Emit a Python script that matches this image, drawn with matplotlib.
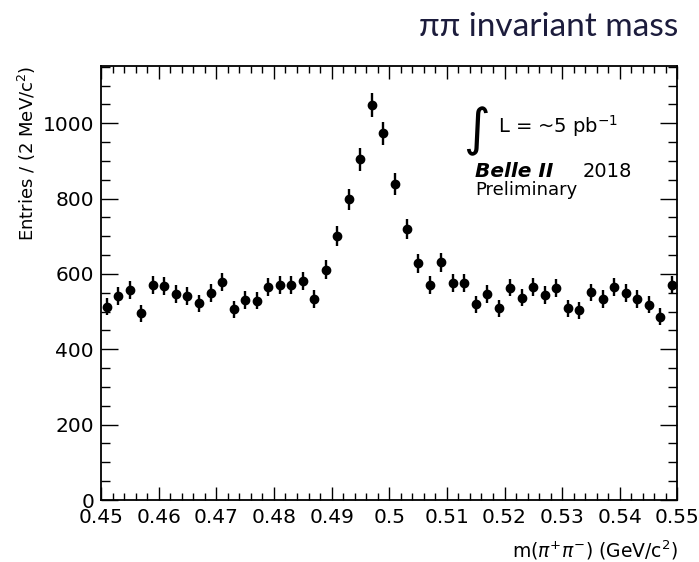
import numpy as np
import matplotlib
matplotlib.use("Agg")
import matplotlib.pyplot as plt
from matplotlib.ticker import MultipleLocator

# ---- data ----
bin_centers = np.round(np.arange(0.451, 0.550, 0.002), 3)
counts = [513, 542, 557, 496, 571, 568, 546, 541, 522, 549,
          578, 506, 531, 529, 565, 570, 570, 581, 533, 611,
          701, 798, 904, 1049, 973, 838, 719, 628, 571, 631,
          577, 577, 520, 546, 509, 564, 537, 566, 544, 562,
          509, 504, 551, 534, 566, 549, 533, 518, 487, 571]
xtick_values = [0.45, 0.46, 0.47, 0.48, 0.49, 0.50, 0.51, 0.52, 0.53, 0.54, 0.55]
xtick_labels = ['0.45', '0.46', '0.47', '0.48', '0.49', '0.5', '0.51', '0.52', '0.53', '0.54', '0.55']
ytick_values = [0, 200, 400, 600, 800, 1000]
ytick_labels = ['0', '200', '400', '600', '800', '1000']

counts = np.array(counts, dtype=float)
errors = np.sqrt(counts)

plt.rcParams['font.family'] = ['DejaVu Sans']
fig = plt.figure(figsize=(6.99, 5.62), dpi=100)
ax = fig.add_axes([0.1445, 0.1103, 0.9692 - 0.1445, 0.8826 - 0.1103])

ax.errorbar(bin_centers, counts, yerr=errors, fmt='o', color='black',
            markersize=6, elinewidth=1.7, capsize=0)

ax.set_xlim(0.45, 0.55)
ax.set_ylim(0, 1152)

ax.set_xticks(xtick_values)
ax.set_xticklabels(xtick_labels)
ax.set_yticks(ytick_values)
ax.set_yticklabels(ytick_labels)
ax.xaxis.set_minor_locator(MultipleLocator(0.002))
ax.yaxis.set_minor_locator(MultipleLocator(50))

ax.tick_params(axis='both', which='both', direction='in', top=True, right=True,
               color='black', width=1.0, labelsize=14.5)
ax.tick_params(axis='x', which='major', length=9.6, pad=6)
ax.tick_params(axis='x', which='minor', length=4.7)
ax.tick_params(axis='y', which='major', length=12.2, pad=5)
ax.tick_params(axis='y', which='minor', length=6.8)
for s in ax.spines.values():
    s.set_linewidth(1.3)
    s.set_color('black')

ax.set_xlabel(r'm($\pi^{+}\pi^{-}$) (GeV/c$^{2}$)', fontsize=13.5, loc='right', labelpad=8)
ax.set_ylabel(r'Entries / (2 MeV/c$^{2}$)', fontsize=13, loc='top', labelpad=3)

# annotations
fig.text(463 / 699, 1 - 131 / 562, '\u222b', fontsize=37, ha='left', va='center')
fig.text(498 / 699, 1 - 133 / 562, r'L = ~5 pb$^{-1}$', fontsize=14, ha='left', va='baseline')
fig.text(475 / 699, 1 - 177 / 562, 'Belle II', fontsize=14.5, fontweight='bold',
         fontstyle='italic', ha='left', va='baseline')
fig.text(583 / 699, 1 - 177 / 562, '2018', fontsize=14, ha='left', va='baseline')
fig.text(475 / 699, 1 - 195 / 562, 'Preliminary', fontsize=13, ha='left', va='baseline')

fig.text(678 / 699, 1 - 36 / 562, '\u03c0\u03c0 invariant mass', fontsize=24,
         family=['Lato', 'DejaVu Sans'], color='#1c1c3c', ha='right', va='baseline')

fig.savefig('out.png', dpi=100)
